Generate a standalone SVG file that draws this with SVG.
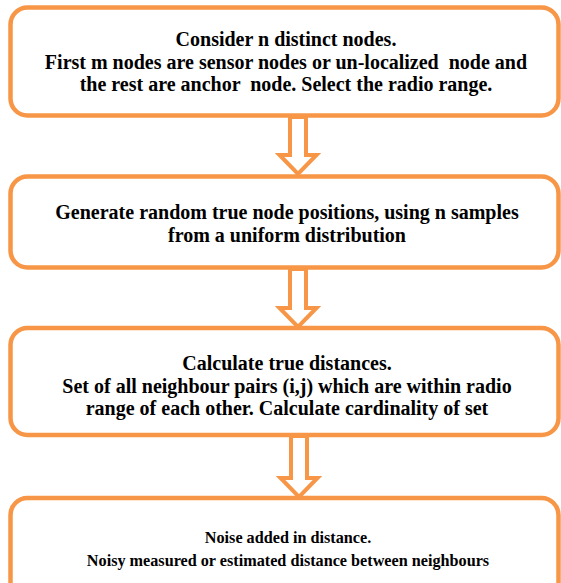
<svg xmlns="http://www.w3.org/2000/svg" width="561" height="583" viewBox="0 0 561 583">
  <style>
    .box { fill: #ffffff; stroke: #f79646; stroke-width: 4.5; }
    .arrow { fill: #ffffff; stroke: #f79646; stroke-width: 4; stroke-linejoin: miter; }
    .t { font-family: "Liberation Serif", "Times New Roman", serif; font-weight: bold; font-size: 20px; fill: #000000; text-anchor: middle; white-space: pre; }
    .s { font-size: 16.2px; }
  </style>
  <rect width="561" height="583" fill="#ffffff"/>

  <g id="connectors">
    <polygon class="arrow" points="290,117 306,117 306,155 316.5,155 298,174 279.5,155 290,155"/>
    <polygon class="arrow" points="290,269 306,269 306,308 316.5,308 298,327 279.5,308 290,308"/>
    <polygon class="arrow" points="291,436 307,436 307,478 317.5,478 299,497 280.5,478 291,478"/>
  </g>

  <g id="step1">
    <rect class="box" x="10.5" y="7.5" width="548" height="108" rx="17"/>
    <text class="t" x="286" y="46">Consider n distinct nodes.</text>
    <text class="t" x="286" y="69" xml:space="preserve">First m nodes are sensor nodes or un-localized  node and</text>
    <text class="t" x="286" y="91" xml:space="preserve">the rest are anchor  node. Select the radio range.</text>
  </g>

  <g id="step2">
    <rect class="box" x="10.5" y="176.5" width="548" height="91" rx="17"/>
    <text class="t" x="287" y="219">Generate random true node positions, using n samples</text>
    <text class="t" x="287" y="242">from a uniform distribution</text>
  </g>

  <g id="step3">
    <rect class="box" x="10.5" y="328" width="548" height="107" rx="17"/>
    <text class="t" x="287" y="369.5">Calculate true distances.</text>
    <text class="t" x="287" y="392.5">Set of all neighbour pairs (i,j) which are within radio</text>
    <text class="t" x="287" y="415">range of each other. Calculate cardinality of set</text>
  </g>

  <g id="step4">
    <rect class="box" x="10.5" y="498" width="548" height="110" rx="17"/>
    <text class="t s" x="288" y="543">Noise added in distance.</text>
    <text class="t s" x="288" y="566">Noisy measured or estimated distance between neighbours</text>
  </g>
</svg>
